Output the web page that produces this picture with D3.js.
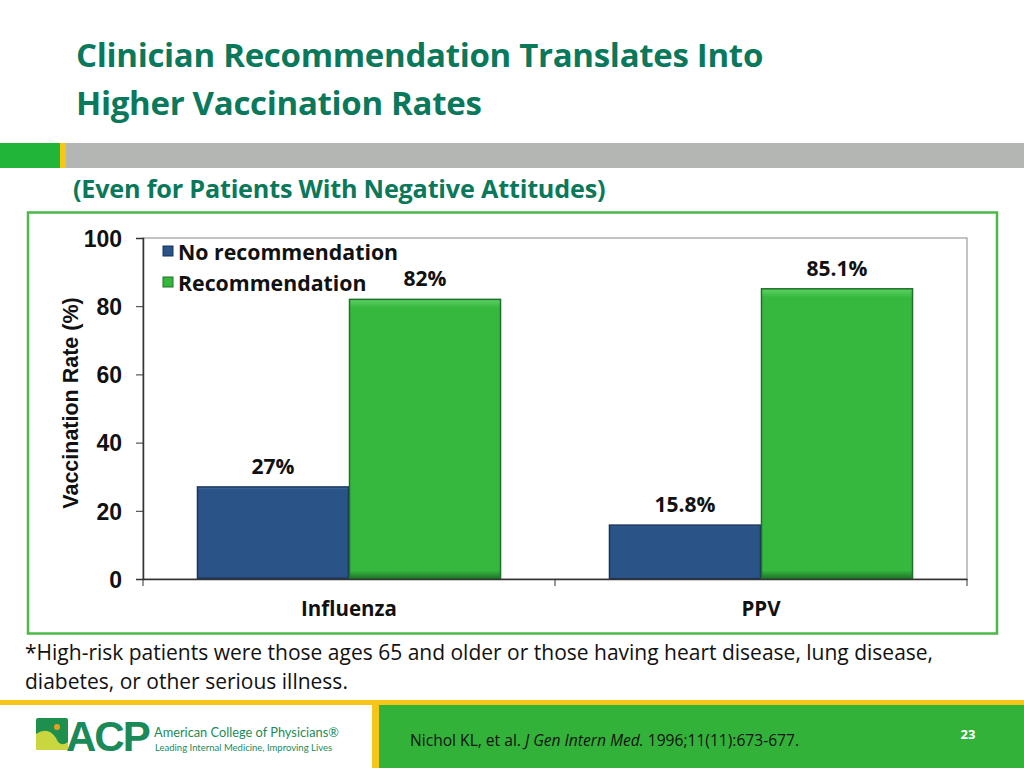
<!DOCTYPE html>
<html><head><meta charset="utf-8">
<script src="https://cdn.jsdelivr.net/npm/d3@7"></script>
<style>
body{margin:0;background:#fff;}
svg{display:block;}
.cal{font-family:"Open Sans",Lato,sans-serif;}
.nar{font-family:"Liberation Sans Narrow","Arial Narrow","Liberation Sans",sans-serif;font-stretch:condensed;}
</style></head>
<body>
<svg id="c" width="1024" height="768"></svg>
<script>
const categories = ["Influenza", "PPV"];
const seriesNames = ["No recommendation", "Recommendation"];
const noRecommendation = [27, 15.8];
const recommendation = [82, 85.1];
const noRecLabels = ["27%", "15.8%"];
const recLabels = ["82%", "85.1%"];
const yTicks = [0, 20, 40, 60, 80, 100];

const svg = d3.select("#c");
const teal = "#0a785a";

// Title
svg.append("text").attr("class","cal").attr("x",76).attr("y",67)
  .attr("font-size",33).attr("font-weight",700).attr("fill",teal).attr("letter-spacing",-0.3)
  .text("Clinician Recommendation Translates Into");
svg.append("text").attr("class","cal").attr("x",76).attr("y",115)
  .attr("font-size",33).attr("font-weight",700).attr("fill",teal).attr("letter-spacing",-0.3)
  .text("Higher Vaccination Rates");

// header band
svg.append("rect").attr("x",0).attr("y",143).attr("width",60).attr("height",25).attr("fill","#21b53a");
svg.append("rect").attr("x",60).attr("y",143).attr("width",6).attr("height",25).attr("fill","#f5c518");
svg.append("rect").attr("x",66).attr("y",143).attr("width",958).attr("height",25).attr("fill","#b3b6b2");

// subtitle
svg.append("text").attr("class","cal").attr("x",73).attr("y",198)
  .attr("font-size",25.2).attr("font-weight",700).attr("fill",teal).attr("letter-spacing",-0.2)
  .text("(Even for Patients With Negative Attitudes)");

// chart frame
svg.append("rect").attr("x",28).attr("y",212.5).attr("width",969).attr("height",421)
  .attr("fill","#fff").attr("stroke","#4cb848").attr("stroke-width",2.5);

// scales
const x0 = d3.scaleBand().domain(categories).range([143,967]).paddingInner(0).paddingOuter(0);
const x1 = d3.scaleBand().domain(seriesNames).range([0,x0.bandwidth()]).paddingInner(0).paddingOuter(0.355);
const y = d3.scaleLinear().domain([0,100]).range([579,238]);
const colors = {fill:["#2a5387","#36b83f"], stroke:["#1a355a","#1e6f27"], light:["#4a74aa","#5fd166"]};

// defs gradients for bevel look
const defs = svg.append("defs");
seriesNames.forEach((s,i)=>{
  const g = defs.append("linearGradient").attr("id","g"+i).attr("x1",0).attr("y1",0).attr("x2",0).attr("y2",1);
  g.append("stop").attr("offset","0").attr("stop-color",colors.light[i]);
  g.append("stop").attr("offset","0.03").attr("stop-color",colors.fill[i]);
  g.append("stop").attr("offset","0.97").attr("stop-color",colors.fill[i]);
  g.append("stop").attr("offset","1").attr("stop-color",colors.stroke[i]);
});

// plot area border (top/right)
svg.append("rect").attr("x",143).attr("y",238).attr("width",824).attr("height",341)
  .attr("fill","none").attr("stroke","#888").attr("stroke-width",1);

// bars
const data = categories.map((c,i)=>({cat:c, vals:[
  {s:seriesNames[0], v:noRecommendation[i], lab:noRecLabels[i], k:0},
  {s:seriesNames[1], v:recommendation[i], lab:recLabels[i], k:1}]}));
const grp = svg.append("g").selectAll("g").data(data).join("g")
  .attr("transform",d=>`translate(${x0(d.cat)},0)`);
grp.selectAll("rect").data(d=>d.vals).join("rect")
  .attr("x",d=>x1(d.s)+0.5).attr("width",x1.bandwidth()-1)
  .attr("y",d=>y(d.v)).attr("height",d=>y(0)-y(d.v))
  .attr("fill",d=>`url(#g${d.k})`).attr("stroke",d=>colors.stroke[d.k]).attr("stroke-width",1.5);
grp.selectAll("text").data(d=>d.vals).join("text")
  .attr("class","cal").attr("x",d=>x1(d.s)+x1.bandwidth()/2).attr("y",d=>y(d.v)-13)
  .attr("text-anchor","middle").attr("font-size",21).attr("font-weight",700).attr("fill","#111")
  .text(d=>d.lab);

// y axis
const yAxis = svg.append("g").attr("transform","translate(143,0)")
  .call(d3.axisLeft(y).tickValues(yTicks).tickSize(7).tickPadding(14).tickFormat(d3.format("d")));
yAxis.select(".domain").attr("stroke","#333").attr("stroke-width",1.5);
yAxis.selectAll(".tick line").attr("stroke","#333");
yAxis.selectAll("text").attr("class","nar").attr("font-size",23).attr("font-weight",700).attr("fill","#111").attr("dy","0.36em");

// x axis
const xAxis = svg.append("g").attr("transform","translate(0,579)")
  .call(d3.axisBottom(x0).tickSize(0).tickPadding(22));
xAxis.select(".domain").attr("stroke","#333").attr("stroke-width",1.5);
xAxis.selectAll("text").attr("class","cal").attr("font-size",20.5).attr("font-weight",700).attr("fill","#111");
const bounds = [143,555,967];
svg.append("g").selectAll("line").data(bounds).join("line")
  .attr("x1",d=>d).attr("x2",d=>d).attr("y1",579).attr("y2",586).attr("stroke","#333");

// y title
svg.append("text").attr("class","nar").attr("transform","translate(78,403) rotate(-90)")
  .attr("text-anchor","middle").attr("font-size",21.5).attr("font-weight",700).attr("fill","#111")
  .text("Vaccination Rate (%)");

// legend
const leg = svg.append("g");
seriesNames.forEach((s,i)=>{
  const ly = 246 + i*31;
  leg.append("rect").attr("x",163).attr("y",ly).attr("width",10).attr("height",10)
    .attr("fill",colors.fill[i]).attr("stroke",colors.stroke[i]);
  leg.append("text").attr("class","cal").attr("x",178).attr("y",ly+14)
    .attr("font-size",21.3).attr("font-weight",700).attr("fill","#111").text(s);
});

// footnote
svg.append("text").attr("class","cal").attr("x",25).attr("y",660).attr("font-size",21).attr("fill","#111")
  .text("*High-risk patients were those ages 65 and older or those having heart disease, lung disease,");
svg.append("text").attr("class","cal").attr("x",25).attr("y",689).attr("font-size",21).attr("fill","#111")
  .text("diabetes, or other serious illness.");

// footer
svg.append("rect").attr("x",0).attr("y",700).attr("width",1024).attr("height",5).attr("fill","#f5c518");
svg.append("rect").attr("x",372).attr("y",700).attr("width",7).attr("height",68).attr("fill","#f5c518");
svg.append("rect").attr("x",379).attr("y",705).attr("width",645).attr("height",63).attr("fill","#33b23a");
const ft = svg.append("text").attr("class","cal").attr("x",410).attr("y",746).attr("font-size",15.6).attr("fill","#111");
ft.append("tspan").text("Nichol KL, et al. ");
ft.append("tspan").attr("font-style","italic").text("J Gen Intern Med.");
ft.append("tspan").text(" 1996;11(11):673-677.");
svg.append("text").attr("class","cal").attr("x",968).attr("y",739).attr("text-anchor","middle")
  .attr("font-size",13).attr("font-weight",700).attr("fill","#fff").text("23");

// logo
const lg = svg.append("g");
lg.append("rect").attr("x",36).attr("y",718).attr("width",32).attr("height",32).attr("fill","#1f8f4e").attr("rx",2);
lg.append("path").attr("d","M36 734 Q48 726 56 738 Q60 748 68 742 L68 750 L36 750 Z").attr("fill","#c9d640");
lg.append("circle").attr("cx",57).attr("cy",727).attr("r",3).attr("fill","#e8a020");
lg.append("text").attr("x",66).attr("y",751).attr("font-family","Liberation Sans,Arial,sans-serif")
  .attr("font-weight",700).attr("font-size",42).attr("fill","#1a8a58").attr("letter-spacing",-2).text("ACP");
lg.append("text").attr("x",154).attr("y",737).attr("font-family","Lato,sans-serif").attr("font-size",12.8).attr("fill","#1a8a58")
  .text("American College of Physicians®");
lg.append("text").attr("x",155).attr("y",751).attr("font-family","Lato,sans-serif").attr("font-size",9.5).attr("fill","#1a8a58")
  .text("Leading Internal Medicine, Improving Lives");
</script>
</body></html>
